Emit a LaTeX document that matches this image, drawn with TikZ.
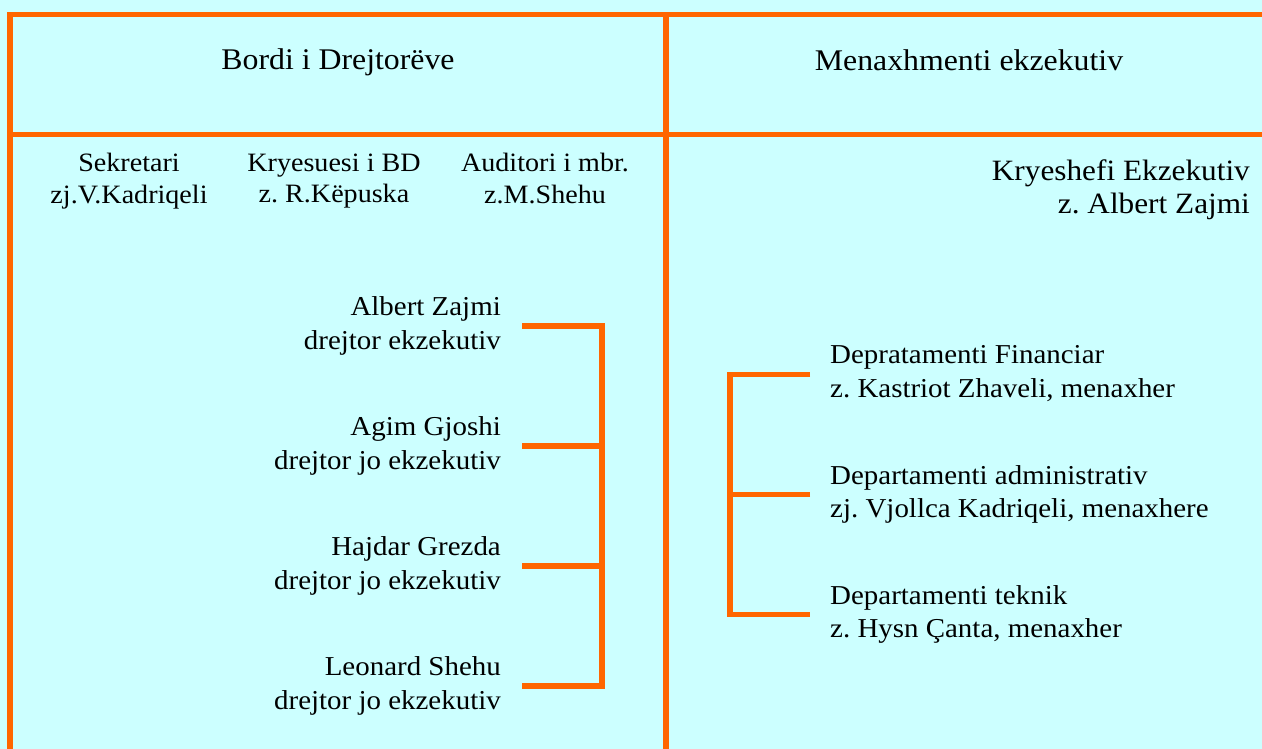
\documentclass[tikz,border=0pt]{standalone}
\usepackage{fontspec}
\setmainfont{Liberation Serif}[FakeStretch=1.06]
\definecolor{bgc}{HTML}{CCFFFF}
\definecolor{org}{HTML}{FF6600}
\begin{document}
\frenchspacing
\begin{tikzpicture}[x=1pt,y=-1pt,
  rule/.style={draw=org,line width=5.5pt,line join=miter},
  head/.style={font=\fontsize{30}{36}\selectfont,inner sep=0pt,anchor=base},
  toprow/.style={font=\fontsize{26.5}{31.6}\selectfont,inner sep=0pt,align=center,
    execute at begin node=\vphantom{Al},execute at end node=\vphantom{gj}},
  chief/.style={font=\fontsize{29.5}{32.6}\selectfont,inner sep=0pt,align=right,anchor=east,
    execute at begin node=\vphantom{Al},execute at end node=\vphantom{gj}},
  member/.style={font=\fontsize{27.3}{33.3}\selectfont,inner xsep=21pt,inner ysep=0pt,align=right,anchor=east,
    execute at begin node=\vphantom{Al},execute at end node=\vphantom{gj}},
  dept/.style={font=\fontsize{27.3}{33.3}\selectfont,inner xsep=20pt,inner ysep=0pt,align=left,anchor=west,
    execute at begin node=\vphantom{Al},execute at end node=\vphantom{gj}}]
\fill[bgc] (0,0) rectangle (1262,749);
\useasboundingbox (0,0) rectangle (1262,749);
% grid
\draw[rule] (10,749) -- (10,14.5) -- (1262,14.5);
\draw[rule] (10,134.5) -- (1262,134.5);
\draw[rule] (666,14.5) -- (666,749);
% headers
\node[head] (bd) at (338,70) {Bordi i Drejtorëve};
\node[head] (me) at (969,71) {Menaxhmenti ekzekutiv};
% top row
\node[toprow] (sek) at (129,181) {Sekretari\\zj.V.Kadriqeli};
\node[toprow] (kry) at (334,181) {Kryesuesi i BD\\z. R.Këpuska};
\node[toprow] (aud) at (545,181) {Auditori i mbr.\\z.M.Shehu};
\node[chief] (ceo) at (1250,190) {Kryeshefi Ekzekutiv\\z. Albert Zajmi};
% board members
\node[member] (m1) at (522,326) {Albert Zajmi\\drejtor ekzekutiv};
\node[member] (m2) at (522,446) {Agim Gjoshi\\drejtor jo ekzekutiv};
\node[member] (m3) at (522,566) {Hajdar Grezda\\drejtor jo ekzekutiv};
\node[member] (m4) at (522,686) {Leonard Shehu\\drejtor jo ekzekutiv};
\coordinate (lv) at (602,326);
\draw[rule] (m1.east) -- (m1.east -| lv) -- (m4.east -| lv) -- (m4.east);
\draw[rule] (m2.east) -- (m2.east -| lv);
\draw[rule] (m3.east) -- (m3.east -| lv);
% departments
\node[dept] (d1) at (810,374.5) {Depratamenti Financiar\\z. Kastriot Zhaveli, menaxher};
\node[dept] (d2) at (810,494.5) {Departamenti administrativ\\zj. Vjollca Kadriqeli, menaxhere};
\node[dept] (d3) at (810,614.5) {Departamenti teknik\\z. Hysn Çanta, menaxher};
\coordinate (rv) at (730,374.5);
\draw[rule] (d1.west) -- (d1.west -| rv) -- (d3.west -| rv) -- (d3.west);
\draw[rule] (d2.west) -- (d2.west -| rv);
\end{tikzpicture}
\end{document}
